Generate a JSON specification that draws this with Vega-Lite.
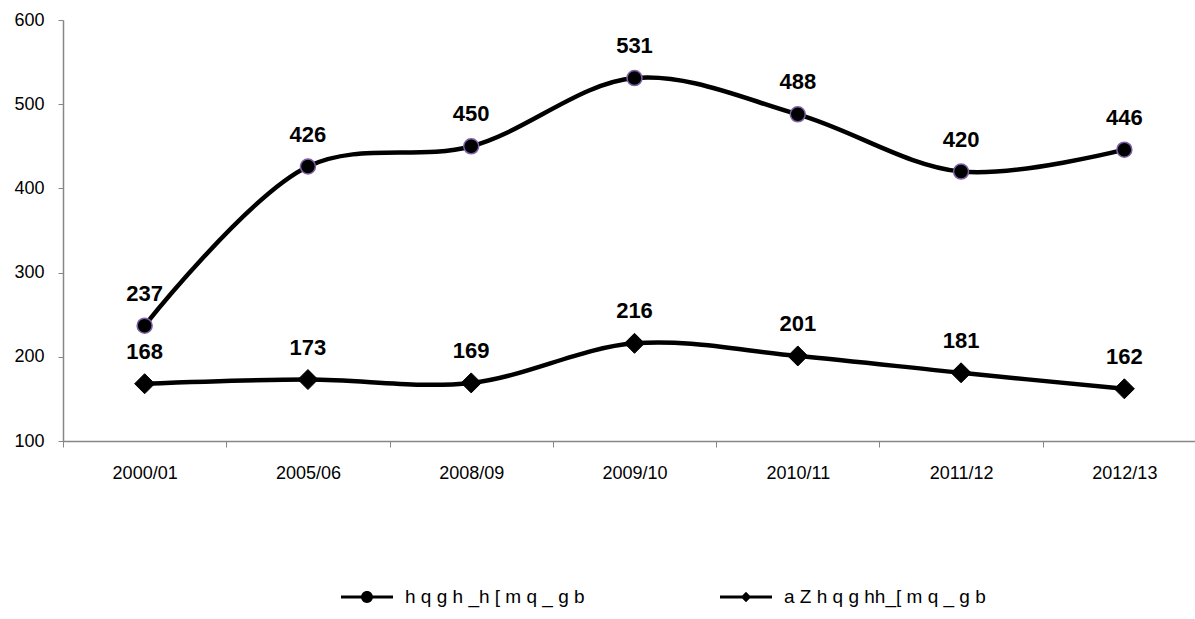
{
  "$schema": "https://vega.github.io/schema/vega-lite/v6.json",
  "width": 1132,
  "height": 421,
  "autosize": {"type": "none"},
  "padding": {"left": 63, "top": 20, "right": 0, "bottom": 178},
  "background": "white",
  "config": {"view": {"stroke": null}, "font": "Liberation Sans"},
  "data": {
    "values": [
      {"year": "2000/01", "series": "h q g h _h [ m q _ g b", "value": 237},
      {"year": "2005/06", "series": "h q g h _h [ m q _ g b", "value": 426},
      {"year": "2008/09", "series": "h q g h _h [ m q _ g b", "value": 450},
      {"year": "2009/10", "series": "h q g h _h [ m q _ g b", "value": 531},
      {"year": "2010/11", "series": "h q g h _h [ m q _ g b", "value": 488},
      {"year": "2011/12", "series": "h q g h _h [ m q _ g b", "value": 420},
      {"year": "2012/13", "series": "h q g h _h [ m q _ g b", "value": 446},
      {"year": "2000/01", "series": "a Z h q g hh_[ m q _ g b", "value": 168},
      {"year": "2005/06", "series": "a Z h q g hh_[ m q _ g b", "value": 173},
      {"year": "2008/09", "series": "a Z h q g hh_[ m q _ g b", "value": 169},
      {"year": "2009/10", "series": "a Z h q g hh_[ m q _ g b", "value": 216},
      {"year": "2010/11", "series": "a Z h q g hh_[ m q _ g b", "value": 201},
      {"year": "2011/12", "series": "a Z h q g hh_[ m q _ g b", "value": 181},
      {"year": "2012/13", "series": "a Z h q g hh_[ m q _ g b", "value": 162}
    ]
  },
  "encoding": {
    "x": {
      "field": "year",
      "type": "nominal",
      "sort": null,
      "scale": {"type": "band", "paddingInner": 0, "paddingOuter": 0, "range": [0, 1143]},
      "axis": {
        "title": null,
        "tickBand": "extent",
        "labelAngle": 0,
        "labelFontSize": 18,
        "labelColor": "black",
        "labelPadding": 17,
        "tickSize": 6,
        "tickColor": "#868686",
        "domainColor": "#868686",
        "domainWidth": 1.5,
        "grid": false
      }
    },
    "y": {
      "field": "value",
      "type": "quantitative",
      "scale": {"domain": [100, 600], "nice": false, "zero": false},
      "axis": {
        "title": null,
        "values": [100, 200, 300, 400, 500, 600],
        "labelFontSize": 18,
        "labelColor": "black",
        "labelPadding": 14,
        "tickSize": 5,
        "tickColor": "#868686",
        "domainColor": "#868686",
        "domainWidth": 1.5,
        "grid": false
      }
    }
  },
  "layer": [
    {
      "mark": {"type": "line", "interpolate": "catmull-rom", "strokeWidth": 4.5},
      "encoding": {
        "stroke": {
          "field": "series",
          "type": "nominal",
          "sort": null,
          "scale": {"domain": ["h q g h _h [ m q _ g b", "a Z h q g hh_[ m q _ g b"], "range": ["black", "#000000"]},
          "legend": {
            "title": null,
            "orient": "none",
            "direction": "horizontal",
            "legendX": 278,
            "legendY": 551,
            "padding": 0,
            "columnPadding": 135,
            "symbolSize": 2704,
            "labelFontSize": 19,
            "labelColor": "black",
            "labelOffset": 12,
            "labelLimit": 400,
            "encode": {
              "symbols": {
                "update": {
                  "shape": {"signal": "datum.value === 'h q g h _h [ m q _ g b' ? 'M-1,-0.06H1V0.06H-1Z M0.23,0A0.23,0.23 0 1,1 -0.23,0A0.23,0.23 0 1,1 0.23,0Z' : 'M-1,-0.06H1V0.06H-1Z M0,-0.2L0.2,0L0,0.2L-0.2,0Z'"},
                  "fill": {"value": "black"},
                  "fillOpacity": {"value": 1},
                  "strokeWidth": {"value": 0}
                }
              }
            }
          }
        }
      }
    },
    {
      "transform": [{"filter": "datum.series === 'h q g h _h [ m q _ g b'"}],
      "mark": {"type": "point", "shape": "circle", "filled": true, "fill": "black", "stroke": "#7E61A8", "strokeWidth": 1.5, "opacity": 1, "size": 225}
    },
    {
      "transform": [{"filter": "datum.series === 'a Z h q g hh_[ m q _ g b'"}],
      "mark": {"type": "point", "shape": "diamond", "filled": true, "fill": "black", "stroke": "black", "strokeWidth": 1, "opacity": 1, "size": 400}
    },
    {
      "mark": {"type": "text", "dy": -32, "fontSize": 22, "fontWeight": "bold", "color": "black", "baseline": "middle"},
      "encoding": {"text": {"field": "value", "type": "quantitative"}}
    }
  ]
}
